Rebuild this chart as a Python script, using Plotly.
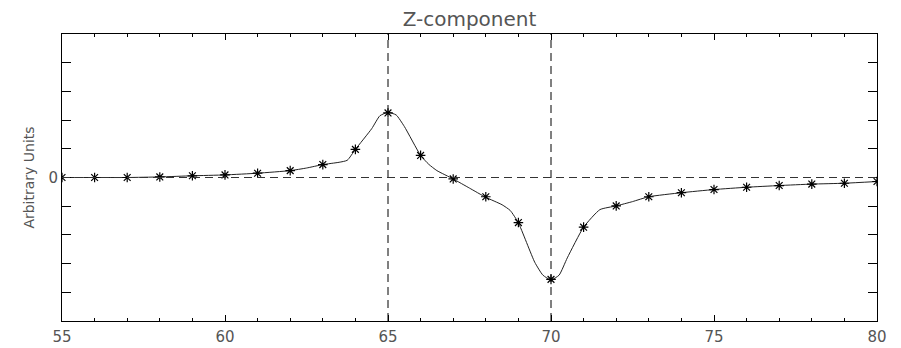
import plotly.graph_objects as go

# Sampled points (star markers)
marker_x = list(range(55, 81))
marker_y = [0.0, 0.0, 0.0, 0.02, 0.06, 0.09, 0.15, 0.24, 0.45, 0.98, 2.25, 0.77,
            -0.05, -0.67, -1.57, -3.55, -1.73, -0.99, -0.67, -0.53, -0.42, -0.34,
            -0.28, -0.23, -0.20, -0.14]

# Continuous curve
curve_x = [55, 56, 57, 58, 59, 60, 61, 62, 62.5, 63, 63.5, 63.75, 64, 64.5, 64.75,
           65, 65.25, 65.5, 66, 66.25, 66.5, 67, 67.5, 68, 68.5, 68.75, 69, 69.5,
           69.75, 70, 70.25, 70.5, 71, 71.5, 72, 72.5, 73, 74, 75, 76, 77, 78, 79, 80]
curve_y = [0.0, 0.0, 0.0, 0.02, 0.06, 0.09, 0.15, 0.24, 0.33, 0.45, 0.53, 0.6, 0.98,
           1.70, 2.15, 2.27, 2.18, 1.78, 0.77, 0.46, 0.24, -0.05, -0.37, -0.69, -0.95,
           -1.15, -1.58, -2.95, -3.4, -3.57, -3.4, -2.8, -1.73, -1.12, -0.99, -0.84,
           -0.67, -0.53, -0.42, -0.34, -0.28, -0.23, -0.20, -0.14]

x_ticks = [55, 60, 65, 70, 75, 80]
y_ticks = [-5, -4, -3, -2, -1, 0, 1, 2, 3, 4, 5]
y_ticktext = ["", "", "", "", "", "0", "", "", "", "", ""]
ref_x = [65, 70]
ref_y = 0

title = "Z-component"
y_title = "Arbitrary Units"

FONT = "DejaVu Sans"
TXT = "#555555"

fig = go.Figure()

fig.add_trace(go.Scatter(x=curve_x, y=curve_y, mode="lines",
                         line=dict(color="#222222", width=1, shape="spline", smoothing=0.5),
                         hoverinfo="skip", showlegend=False))
fig.add_trace(go.Scatter(x=marker_x, y=marker_y, mode="markers",
                         marker=dict(symbol="asterisk-open", size=8, color="black",
                                     line=dict(color="black", width=1.2)),
                         showlegend=False, cliponaxis=True))

for xv in ref_x:
    fig.add_shape(type="line", xref="x", yref="paper", x0=xv, x1=xv, y0=0, y1=1,
                  line=dict(color="black", width=1, dash="8px,5px"))
fig.add_shape(type="line", xref="paper", yref="y", x0=0, x1=1, y0=ref_y, y1=ref_y,
              line=dict(color="#333333", width=1, dash="8px,5px"))

# The page body adds an 8px offset, so the figure is sized to fit inside the window.
fig.update_layout(
    width=893, height=340,
    margin=dict(l=54, r=24, t=26, b=27, autoexpand=False),
    paper_bgcolor="white", plot_bgcolor="white",
    font=dict(family=FONT, size=14, color=TXT),
    title=dict(text=title, xref="paper", x=0.5, xanchor="center",
               yref="container", y=0.968, yanchor="middle",
               font=dict(family=FONT, size=20, color=TXT)),
    showlegend=False,
)

fig.update_xaxes(range=[55, 80], tickvals=x_ticks, ticks="inside", ticklen=6,
                 tickcolor="black", tickwidth=1, showgrid=False, zeroline=False,
                 showline=True, linecolor="black", linewidth=1, mirror="ticks",
                 automargin=False, ticklabelstandoff=2,
                 tickfont=dict(family=FONT, size=15, color=TXT),
                 minor=dict(dtick=1, ticks="inside", ticklen=3, tickcolor="black",
                            showgrid=False))
fig.update_yaxes(range=[-5, 5], tickvals=y_ticks, ticktext=y_ticktext, ticks="inside",
                 ticklen=9, tickcolor="black", tickwidth=1, showgrid=False,
                 zeroline=False, showline=True, linecolor="black", linewidth=1,
                 mirror="ticks", automargin=False,
                 tickfont=dict(family=FONT, size=15, color=TXT),
                 title=dict(text=y_title, standoff=10,
                            font=dict(family=FONT, size=14, color=TXT)))

fig.write_html("out.html")
